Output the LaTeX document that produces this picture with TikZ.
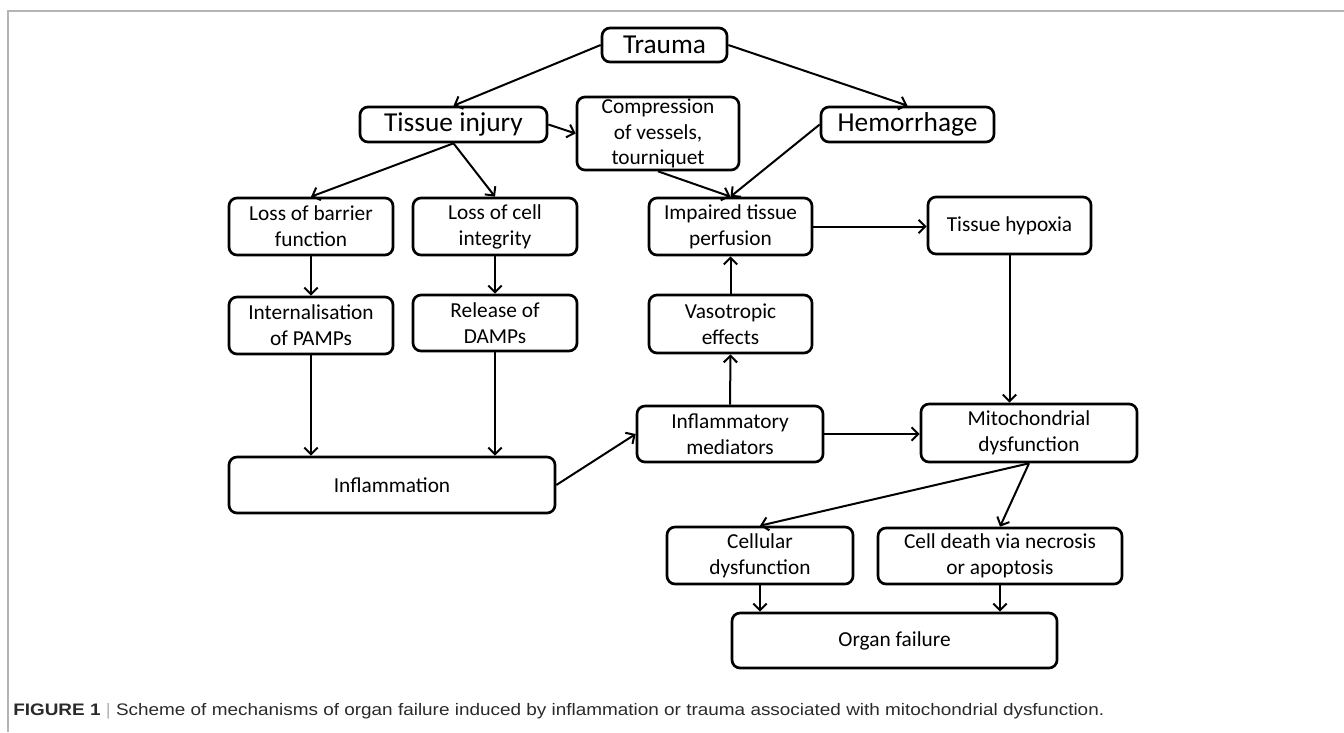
\documentclass[tikz,border=0pt]{standalone}
\usepackage{fontspec}
\setmainfont{Carlito}
\newfontfamily\capfont{Liberation Sans}
\usetikzlibrary{arrows.meta}
\definecolor{framegray}{HTML}{B4B4B4}
\definecolor{captext}{HTML}{2A2A2A}
\tikzset{
  box/.style={draw, line width=2pt, rounded corners=6pt, inner sep=0pt, align=center,
    font=\fontsize{16}{19.5}\selectfont},
  bigbox/.style={box, font=\fontsize{20.5}{24}\selectfont},
  arr/.style={line width=1.5pt, -{Straight Barb[length=5pt,width=10pt,line width=1.5pt]}},
  frameline/.style={draw=framegray, line width=1.6pt}
}
\begin{document}
\begin{tikzpicture}[x=0.75pt,y=-0.75pt]
\useasboundingbox (0,0) rectangle (1344,732);
% frame
\coordinate (ftl) at (8,11);
\coordinate (ftr) at (1344,11);
\coordinate (fbl) at (8,732);
\draw[frameline] (ftr) -- (ftl) -- (fbl);
% nodes
\node[bigbox, minimum width=93.75pt, minimum height=25.5pt] (trauma) at (664.5,45) {Trauma};
\node[bigbox, minimum width=140.25pt, minimum height=26.25pt] (tissue) at (453.5,124.5) {Tissue injury};
\node[box, minimum width=121.5pt, minimum height=54.75pt, font=\fontsize{16}{19}\selectfont] (compr) at (658,133.5) {Compression\\of vessels,\\tourniquet};
\node[bigbox, minimum width=129.75pt, minimum height=26.25pt] (hemor) at (907.5,124.5) {Hemorrhage};
\node[box, minimum width=123pt, minimum height=42.75pt] (barrier) at (311,226.5) {Loss of barrier\\function};
\node[box, minimum width=123pt, minimum height=42.75pt] (cellint) at (495,226.5) {Loss of cell\\integrity};
\node[box, minimum width=122.25pt, minimum height=42.75pt] (impaired) at (730.5,226.5) {Impaired tissue\\perfusion};
\node[box, minimum width=122.25pt, minimum height=42.75pt] (hypoxia) at (1009.5,225.5) {Tissue hypoxia};
\node[box, minimum width=123pt, minimum height=42.75pt] (pamps) at (311,325.5) {Internalisation\\of PAMPs};
\node[box, minimum width=123pt, minimum height=42pt] (damps) at (495,323) {Release of\\DAMPs};
\node[box, minimum width=122.25pt, minimum height=43.5pt] (vaso) at (730.5,324) {Vasotropic\\effects};
\node[box, minimum width=244.5pt, minimum height=42pt] (inflam) at (392,485) {Inflammation};
\node[box, minimum width=139.5pt, minimum height=42pt] (mediators) at (730,434) {Inflammatory\\mediators};
\node[box, minimum width=162pt, minimum height=43.5pt] (mito) at (1029,433) {Mitochondrial\\dysfunction};
\node[box, minimum width=139.5pt, minimum height=42.75pt] (cellular) at (760,555.5) {Cellular\\dysfunction};
\node[box, minimum width=183pt, minimum height=42pt] (death) at (1000,556) {Cell death via necrosis\\or apoptosis};
\node[box, minimum width=243.75pt, minimum height=41.25pt] (organ) at (894.5,640.5) {Organ failure};
% connectors
\draw[arr] (trauma.west) -- (tissue.north);
\draw[arr] (trauma.east) -- (hemor.north);
\draw[arr] (tissue.east) -- (compr.west);
\draw[arr] (tissue.south) -- (barrier.north);
\draw[arr] (tissue.south) -- (cellint.north);
\draw[arr] (compr.south) -- (impaired.north);
\draw[arr] (hemor.west) -- (impaired.north);
\draw[arr] (impaired.east) -- (impaired.east -| hypoxia.west);
\draw[arr] (barrier.south) -- (pamps.north);
\draw[arr] (cellint.south) -- (damps.north);
\draw[arr] (pamps.south) -- (pamps.south |- inflam.north);
\draw[arr] (damps.south) -- (damps.south |- inflam.north);
\draw[arr] (inflam.east) -- (mediators.west);
\draw[arr] (mediators.north) -- (vaso.south);
\draw[arr] (vaso.north) -- (impaired.south);
\draw[arr] (mediators.east) -- (mediators.east -| mito.west);
\draw[arr] (hypoxia.south) -- (hypoxia.south |- mito.north);
\draw[arr] (mito.south) -- (cellular.north);
\draw[arr] (mito.south) -- (death.north);
\draw[arr] (cellular.south) -- (cellular.south |- organ.north);
\draw[arr] (death.south) -- (death.south |- organ.north);
% caption
\node[anchor=base west, inner sep=0pt, text=captext, font=\capfont\fontsize{12.5}{14}\selectfont] (caption) at (13,715)
  {\scalebox{1.136}[1]{\textbf{FIGURE 1} {\color{framegray}|} Scheme of mechanisms of organ failure induced by inflammation or trauma associated with mitochondrial dysfunction.}};
\end{tikzpicture}
\end{document}
